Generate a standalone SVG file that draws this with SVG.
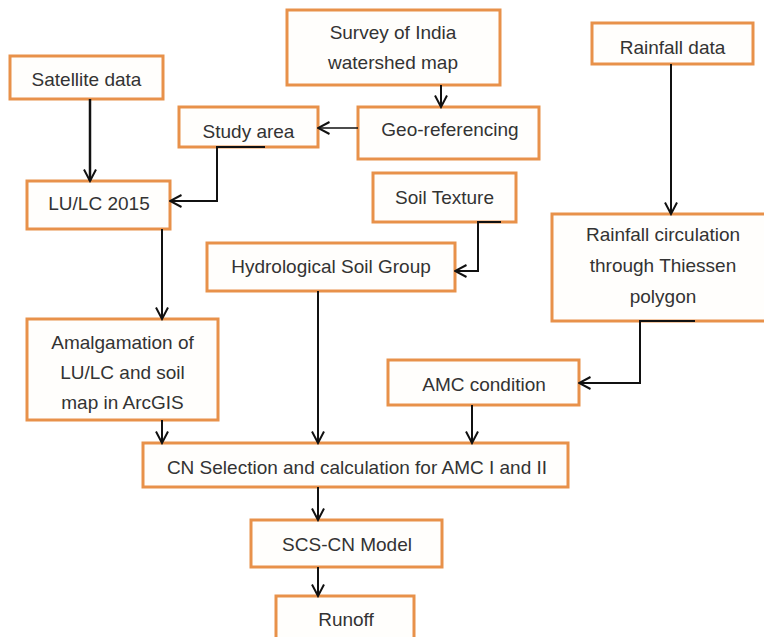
<svg xmlns="http://www.w3.org/2000/svg" width="764" height="637" viewBox="0 0 764 637">
<defs>
<style>
.box{fill:#FFFEFC;stroke:#E8914A;stroke-width:3}
.shadow{fill:none;stroke:#E9D9CC;stroke-width:2}
.t{font-family:"Liberation Sans",Arial,sans-serif;font-size:19px;fill:#333;text-anchor:middle}
.c{fill:none;stroke:#111;stroke-width:2;marker-end:url(#ah)}
.thin{stroke-width:1.4}
</style>
<marker id="ah" viewBox="0 0 14 14" refX="12.5" refY="7" markerWidth="14" markerHeight="14" markerUnits="userSpaceOnUse" orient="auto">
<path d="M1,1 L12.5,7 L1,13" fill="none" stroke="#111" stroke-width="2"/>
</marker>
</defs>
<rect width="764" height="637" fill="#FFFFFF"/>

<g id="satellite">
<rect class="box" x="10" y="56" width="153" height="43"/>
<text class="t" x="86.5" y="86">Satellite data</text>
</g>
<g id="survey">
<rect class="box" x="287" y="10" width="213" height="75"/>
<text class="t" x="393" y="39">Survey of India</text>
<text class="t" x="393" y="69">watershed map</text>
</g>
<g id="study">
<rect class="box" x="179" y="107" width="139" height="40"/>
<text class="t" x="248.5" y="138">Study area</text>
</g>
<g id="geo">
<rect class="box" x="358" y="107" width="181" height="52"/>
<text class="t" x="450" y="136">Geo-referencing</text>
</g>
<g id="rainfall">
<rect class="box" x="592" y="23" width="161" height="41"/>
<text class="t" x="672.5" y="54">Rainfall data</text>
</g>
<g id="lulc">
<rect class="box" x="27" y="181" width="143" height="48"/>
<text class="t" x="99" y="210">LU/LC 2015</text>
</g>
<g id="soil">
<rect class="box" x="373" y="173" width="143" height="49"/>
<text class="t" x="444.5" y="204">Soil Texture</text>
</g>
<g id="hsg">
<rect class="box" x="207" y="243" width="248" height="48"/>
<text class="t" x="331" y="273">Hydrological Soil Group</text>
</g>
<g id="thiessen">
<rect class="box" x="552" y="214" width="214" height="107"/>
<text class="t" x="663" y="241">Rainfall circulation</text>
<text class="t" x="663" y="272">through Thiessen</text>
<text class="t" x="663" y="303">polygon</text>
</g>
<g id="amalgamation">
<rect class="box" x="27" y="319" width="191" height="101"/>
<text class="t" x="122.5" y="349">Amalgamation of</text>
<text class="t" x="122.5" y="379">LU/LC and soil</text>
<text class="t" x="122.5" y="409">map in ArcGIS</text>
</g>
<g id="amc">
<rect class="box" x="388" y="360" width="191" height="45"/>
<text class="t" x="484" y="391">AMC condition</text>
</g>
<g id="cn">
<rect class="box" x="143" y="443" width="425" height="44"/>
<text class="t" x="357" y="474">CN Selection and calculation for AMC I and II</text>
</g>
<g id="scs">
<rect class="box" x="251" y="520" width="191" height="47"/>
<text class="t" x="347" y="551">SCS-CN Model</text>
</g>
<g id="runoff">
<rect class="box" x="276" y="596" width="138" height="50"/>
<text class="t" x="346" y="626">Runoff</text>
</g>

<g id="connectors">
<path class="c" d="M90,99 L90,181" style="stroke-width:2.5"/>
<path class="c" d="M441,85 L441,107"/>
<path class="c thin" d="M358,128 L318,128"/>
<path class="c" d="M265,147 L217,147 L217,201 L170,201"/>
<path class="c" d="M162,229 L162,319"/>
<path class="c" d="M501,222 L478,222 L478,271 L455,271"/>
<path class="c" d="M671,64 L671,214"/>
<path class="c" d="M695,321 L640,321 L640,383 L579,383"/>
<path class="c" d="M162,420 L162,443"/>
<path class="c" d="M318,291 L318,443"/>
<path class="c" d="M472,405 L472,443"/>
<path class="c" d="M318,487 L318,520"/>
<path class="c" d="M318,567 L318,596"/>
</g>
</svg>
